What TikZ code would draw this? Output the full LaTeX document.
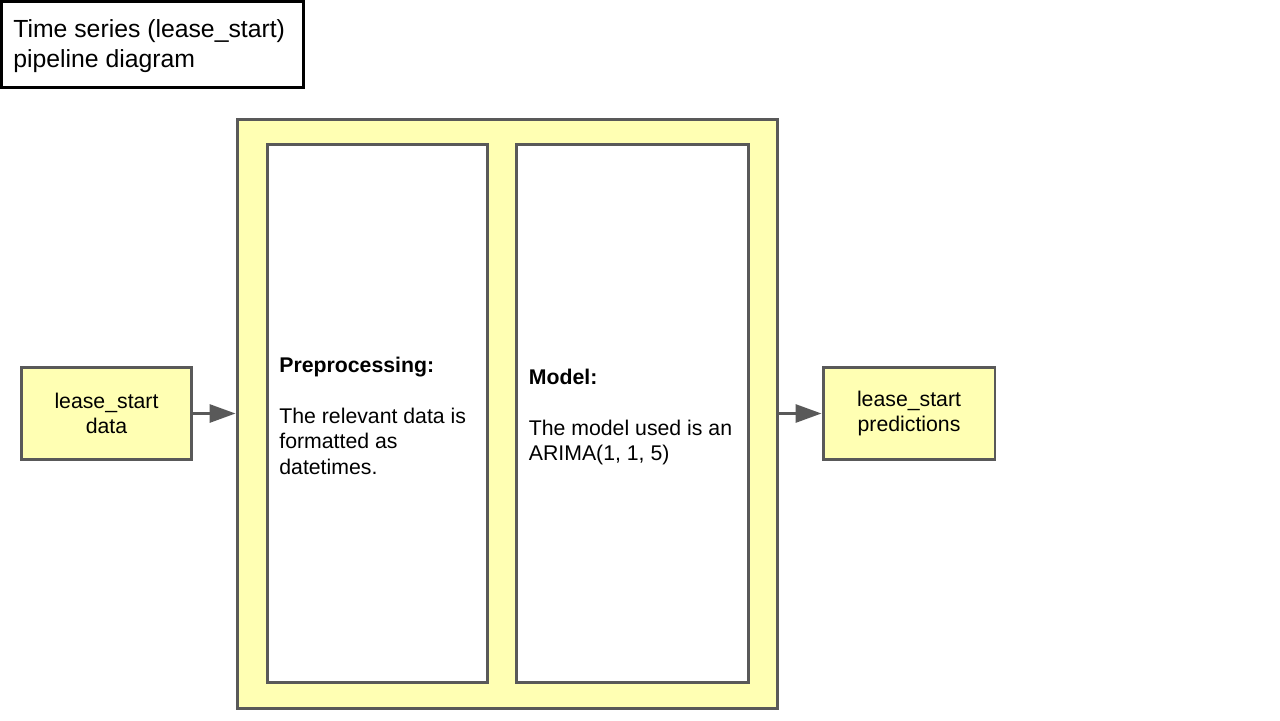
\documentclass[tikz,border=0pt]{standalone}
\usepackage{fontspec}
\setmainfont{Liberation Sans}
\usetikzlibrary{arrows.meta}
\definecolor{paleyellow}{HTML}{FFFFB3}
\definecolor{edgegrey}{HTML}{595959}
\tikzset{
  stagebox/.style={draw=edgegrey, line width=0.06cm, rectangle, inner sep=0pt},
  boxtext/.style={font=\fontsize{12.1}{14.5}\selectfont, align=left, inner sep=0pt},
  flow/.style={draw=edgegrey, line width=0.06cm, -{Triangle[length=0.52cm,width=0.36cm]}}
}
\begin{document}
\begin{tikzpicture}[x=0.02cm,y=-0.02cm]
    \useasboundingbox (0,0) rectangle (1280,720);
    % title
    \node (title) [draw=black, line width=0.06cm, minimum width=6.05cm, minimum height=1.73cm] at (152.75,44.75) {};
    \node [anchor=west, align=left, inner sep=0pt, font=\fontsize{14.1}{17}\selectfont] at (13,46) {Time series (lease\_start)\\pipeline diagram};
    % pipeline
    \node (pipe) [stagebox, fill=paleyellow, minimum width=10.82cm, minimum height=11.8cm] at (507.5,414) {};
    \node (prep) [stagebox, fill=white, minimum width=4.42cm, minimum height=10.78cm] at (377.5,413.5) {};
    \node (model) [stagebox, fill=white, minimum width=4.66cm, minimum height=10.78cm] at (632.5,413.5) {};
    \node (preptext) [boxtext, anchor=west] at ([xshift=0.27cm,yshift=-0.04cm]prep.west) {\textbf{Preprocessing:}\\[14.5pt]The relevant data is\\formatted as\\datetimes.};
    \node (modeltext) [boxtext, anchor=west] at ([xshift=0.28cm,yshift=-0.07cm]model.west) {\textbf{Model:}\\[14.5pt]The model used is an\\ARIMA(1, 1, 5)};
    % input and output
    \node (data) [stagebox, fill=paleyellow, minimum width=3.42cm, minimum height=1.86cm, font=\fontsize{12.1}{14.5}\selectfont, align=center] at (106.5,413.5) {lease\_start\\data};
    \node (pred) [stagebox, fill=paleyellow, minimum width=3.44cm, minimum height=1.86cm, font=\fontsize{12.1}{14.5}\selectfont, align=center] at (909,413.5) {lease\_start\\predictions};
    \draw [flow] (data.east) -- (data.east -| pipe.west);
    \draw [flow] (pred.west -| pipe.east) -- (pred.west);
\end{tikzpicture}
\end{document}
